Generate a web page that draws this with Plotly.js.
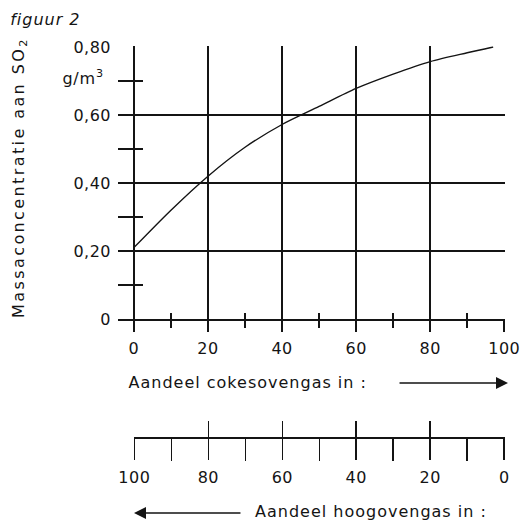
<!DOCTYPE html>
<html><head><meta charset="utf-8">
<script src="https://cdn.plot.ly/plotly-3.0.1.min.js"></script>
<style>
html,body{margin:0;padding:0;background:#fff;}
#chart{width:523px;height:520px;}
.xtick text,.ytick text,.x2tick text{letter-spacing:0.5px;}
.annotation[data-index="0"] text{letter-spacing:1px;}
.annotation[data-index="1"] text{letter-spacing:0.8px;}
.annotation[data-index="2"] text{letter-spacing:2.4px;}
.annotation[data-index="3"] text{letter-spacing:1px;}
.annotation[data-index="5"] text{letter-spacing:1px;}
</style></head>
<body><div id="chart"></div>
<script>
// curve: share of coke-oven gas (%) vs SO2 mass concentration (g/m3)
const cokesPct = [0, 10, 20, 30, 40, 50, 60, 70, 80, 90, 97];
const so2Conc  = [0.21, 0.32, 0.42, 0.505, 0.572, 0.625, 0.678, 0.72, 0.757, 0.783, 0.80];

const xMajorTicks = [0, 20, 40, 60, 80, 100];
const xMinorTicks = [10, 30, 50, 70, 90];
const yMajorTicks = [0, 0.2, 0.4, 0.6, 0.8];
const yTickText   = ['0', '0,20', '0,40', '0,60', '0,80'];
const yMinorTicks = [0.1, 0.3, 0.5, 0.7];
const hoogMajorTicks = [100, 80, 60, 40, 20, 0];
const hoogMinorTicks = [90, 70, 50, 30, 10];

const FONT = 'DejaVu Sans, sans-serif';
const INK = '#141414';

// invisible helper traces so that the overlay / scale axes get drawn
function ghost(xs, xa, ya) {
  return {x: xs, y: xs.map(() => null), type: 'scatter', mode: 'markers',
          marker: {opacity: 0}, xaxis: xa, yaxis: ya, hoverinfo: 'skip', showlegend: false};
}

const traces = [
  {x: cokesPct, y: so2Conc, type: 'scatter', mode: 'lines',
   line: {color: INK, width: 1.4, shape: 'spline', smoothing: 0.8},
   xaxis: 'x', yaxis: 'y', hoverinfo: 'skip'},
  ghost(xMinorTicks, 'x3', 'y'),
  ghost(hoogMajorTicks, 'x2', 'y2'),
  ghost(hoogMajorTicks, 'x4', 'y2')
];

const layout = {
  width: 523, height: 520,
  margin: {l: 118, r: 18, t: 45, b: 83, pad: 0},
  paper_bgcolor: '#fff', plot_bgcolor: '#fff',
  showlegend: false,
  font: {family: FONT, size: 16, color: INK},
  xaxis: {
    domain: [0, 1], anchor: 'y', range: [-4.3, 100.2],
    tickvals: xMajorTicks, ticktext: xMajorTicks.map(String),
    showgrid: true, gridcolor: INK, gridwidth: 1.6, zeroline: false,
    showline: true, linecolor: INK, linewidth: 1.6,
    ticks: 'outside', ticklen: 11, tickwidth: 1.6, tickcolor: INK,
    minor: {tickvals: xMinorTicks, ticks: 'outside', ticklen: 7, tickwidth: 1.6, tickcolor: INK, showgrid: false},
    ticklabelstandoff: 3, tickfont: {size: 16, color: INK}, fixedrange: true
  },
  xaxis3: {
    overlaying: 'x', anchor: 'y', range: [-4.3, 100.2],
    tickvals: xMinorTicks, ticks: 'inside', ticklen: 6, tickwidth: 1.6, tickcolor: INK,
    showticklabels: false, showgrid: false, zeroline: false, showline: false, fixedrange: true
  },
  yaxis: {
    domain: [0.3010, 0.9967], anchor: 'x', range: [0, 0.802],
    tickvals: yMajorTicks, ticktext: yTickText,
    showgrid: true, gridcolor: INK, gridwidth: 1.6, zeroline: false, showline: false,
    ticks: '',
    minor: {tickvals: yMinorTicks, ticks: 'inside', ticklen: 25, tickwidth: 1.6, tickcolor: INK, showgrid: false},
    ticklabelstandoff: 6, tickfont: {size: 16, color: INK}, fixedrange: true
  },
  xaxis2: {
    domain: [0.0413, 1], anchor: 'y2', range: [100.1, -0.2],
    tickvals: hoogMajorTicks, ticktext: hoogMajorTicks.map(String),
    showgrid: false, zeroline: false, showline: true, linecolor: INK, linewidth: 1.6,
    ticks: 'outside', ticklen: 21, tickwidth: 1.6, tickcolor: INK,
    minor: {tickvals: hoogMinorTicks, ticks: 'outside', ticklen: 22, tickwidth: 1.6, tickcolor: INK, showgrid: false},
    ticklabelstandoff: 4, tickfont: {size: 16, color: INK}, fixedrange: true
  },
  xaxis4: {
    overlaying: 'x2', anchor: 'y2', range: [100.1, -0.2],
    tickvals: hoogMajorTicks, ticks: 'inside', ticklen: 16, tickwidth: 1.6, tickcolor: INK,
    showticklabels: false, showgrid: false, zeroline: false, showline: false, fixedrange: true
  },
  yaxis2: {domain: [0, 0.002], anchor: 'x2', range: [0, 1],
           showgrid: false, zeroline: false, showline: false, showticklabels: false, ticks: '', fixedrange: true},
  annotations: [
    {text: '<i>figuur 2</i>', xref: 'paper', yref: 'paper', x: -0.1886, y: 1.0638,
     xanchor: 'center', yanchor: 'middle', showarrow: false, font: {size: 16, color: INK}},
    {text: 'g/m<sup>3</sup>', xref: 'paper', yref: 'paper', x: -0.0904, y: 0.918,
     xanchor: 'center', yanchor: 'middle', showarrow: false, font: {size: 16, color: INK}},
    {text: 'Massaconcentratie aan SO<sub>2</sub>', xref: 'paper', yref: 'paper', x: -0.2532, y: 0.661,
     xanchor: 'center', yanchor: 'middle', textangle: -90, showarrow: false, font: {size: 16, color: INK}},
    {text: 'Aandeel cokesovengas in :', xref: 'paper', yref: 'paper', x: 0.3346, y: 0.1403,
     xanchor: 'center', yanchor: 'middle', showarrow: false, font: {size: 16, color: INK}},
    {text: '', xref: 'paper', yref: 'paper', x: 1.0078, y: 0.1378, ax: -110, ay: 0,
     showarrow: true, arrowhead: 2, arrowsize: 1.5, arrowwidth: 1.6, arrowcolor: INK},
    {text: 'Aandeel hoogovengas in :', xref: 'paper', yref: 'paper', x: 0.655, y: -0.1913,
     xanchor: 'center', yanchor: 'middle', showarrow: false, font: {size: 16, color: INK}},
    {text: '', xref: 'paper', yref: 'paper', x: 0.0413, y: -0.1939, ax: 108, ay: 0,
     showarrow: true, arrowhead: 2, arrowsize: 1.5, arrowwidth: 1.6, arrowcolor: INK}
  ]
};

Plotly.newPlot('chart', traces, layout, {staticPlot: true, displayModeBar: false});
</script>
</body></html>
